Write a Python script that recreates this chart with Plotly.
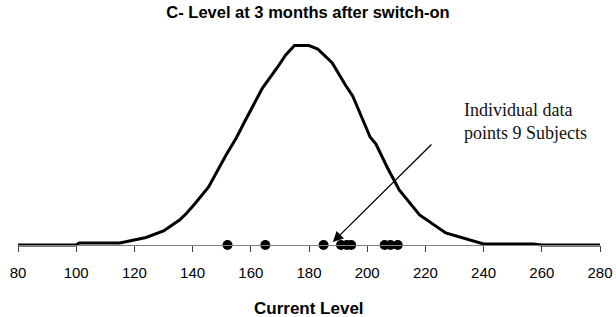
import plotly.graph_objects as go

# Distribution curve (y in arbitrary units)
curve_x = [80, 100, 101, 115, 124, 130, 135.5, 138, 141, 145.5, 151.5, 155, 158, 161, 164,
           169, 172, 175, 180, 183, 188, 192.5, 195, 197.5, 201, 203, 207, 211, 218, 227, 240,
           257, 260, 280]
curve_y = [0, 0, 2, 2, 7.5, 14, 25, 32, 42, 58, 90, 107, 124, 141, 157,
           177, 190, 199.5, 199.5, 196, 182, 160, 149, 132, 108, 101, 77, 55, 30, 12, 1,
           1, 0, 0]

# Individual subjects' C-levels
subject_levels = [152, 165, 185, 191, 193, 194.5, 206, 208, 210.5]
subject_y = [0] * len(subject_levels)

tick_vals = [80, 100, 120, 140, 160, 180, 200, 220, 240, 260, 280]

title_text = "C- Level at 3 months after switch-on"
xtitle_text = "Current Level"
note_text = "Individual data<br>points 9 Subjects"

W, H = 616, 317
plot_top, plot_bottom = 40, 250
ymin, ymax = -5, 205
ph = plot_bottom - plot_top

fig = go.Figure()
fig.add_trace(go.Scatter(x=curve_x, y=curve_y, mode="lines",
                         line=dict(color="black", width=3), showlegend=False,
                         hoverinfo="skip"))
fig.add_trace(go.Scatter(x=subject_levels, y=subject_y, mode="markers",
                         marker=dict(color="black", size=10), showlegend=False,
                         cliponaxis=False))

# Arrow
fig.add_annotation(x=188.2, y=3, ax=222.6, ay=102, xref="x", yref="y", axref="x", ayref="y",
                   showarrow=True, arrowhead=2, arrowsize=1.6, arrowwidth=1.3,
                   arrowcolor="black", text="")
# Note text
fig.add_annotation(x=232.5, y=124, xref="x", yref="y", xanchor="left", yanchor="middle",
                   showarrow=False, align="left", text=note_text,
                   font=dict(family="Liberation Serif", size=18, color="#111111"))
# X title
fig.add_annotation(x=0.5, y=-(308 - plot_bottom) / ph, xref="paper", yref="paper",
                   xanchor="center", yanchor="middle", showarrow=False,
                   text="<b>" + xtitle_text + "</b>",
                   font=dict(family="Liberation Sans", size=17, color="black"))

fig.update_layout(
    width=W, height=H,
    margin=dict(l=18, r=16, t=plot_top, b=H - plot_bottom, pad=0, autoexpand=False),
    paper_bgcolor="white", plot_bgcolor="white",
    title=dict(text="<b>" + title_text + "</b>", x=0.5, xanchor="center",
               y=1 - 12 / H, yref="container", yanchor="middle",
               font=dict(family="Liberation Sans", size=16.5, color="black")),
    xaxis=dict(range=[80, 280], tickvals=tick_vals, showgrid=False, zeroline=False,
               showline=True, linecolor="#808080", linewidth=1,
               ticks="outside", ticklen=6, tickcolor="#404040", tickwidth=1,
               anchor="free", position=(0 - ymin) / (ymax - ymin),
               ticklabelstandoff=8, automargin=False,
               tickfont=dict(family="Liberation Sans", size=15, color="black")),
    yaxis=dict(range=[ymin, ymax], visible=False, showgrid=False, zeroline=False),
)

fig.write_html("out.html", config={"displayModeBar": False},
               post_script="document.body.style.margin='0px';")
